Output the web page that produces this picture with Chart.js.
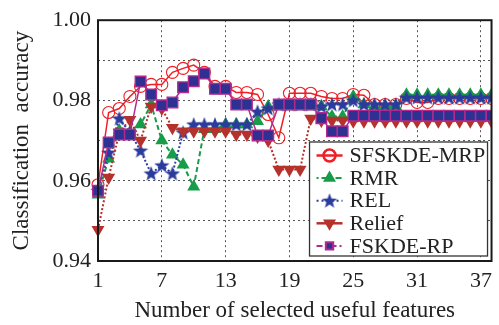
<!DOCTYPE html>
<html>
<head>
<meta charset="utf-8">
<script src="https://cdn.jsdelivr.net/npm/chart.js@4.4.1/dist/chart.umd.min.js"></script>
<style>
  html, body { margin: 0; padding: 0; background: #fff; }
  #wrap { width: 499px; height: 325px; }
</style>
</head>
<body>
<div id="wrap"><canvas id="accChart" width="499" height="325"></canvas></div>
<script>
// number of selected features (x axis)
const features = [1, 2, 3, 4, 5, 6, 7, 8, 9, 10, 11, 12, 13, 14, 15, 16, 17, 18, 19,
                  20, 21, 22, 23, 24, 25, 26, 27, 28, 29, 30, 31, 32, 33, 34, 35, 36, 37, 38];

// classification accuracy per method
const sfskdeMrp = [0.9590, 0.9770, 0.9780, 0.9810, 0.9835, 0.9840, 0.9840, 0.9870, 0.9880, 0.9888,
                   0.9870, 0.9835, 0.9835, 0.9820, 0.9820, 0.9815, 0.9765, 0.9707, 0.9818, 0.9818,
                   0.9818, 0.9810, 0.9805, 0.9805, 0.9815, 0.9813, 0.9790, 0.9790, 0.9790, 0.9805,
                   0.9795, 0.9795, 0.9805, 0.9805, 0.9805, 0.9805, 0.9805, 0.9805];
const rmr       = [0.9565, 0.9655, 0.9725, 0.9720, 0.9740, 0.9790, 0.9700, 0.9665, 0.9640, 0.9585,
                   0.9728, 0.9728, 0.9740, 0.9740, 0.9740, 0.9748, 0.9785, 0.9785, 0.9785, 0.9785,
                   0.9785, 0.9785, 0.9760, 0.9760, 0.9810, 0.9790, 0.9785, 0.9785, 0.9785, 0.9814,
                   0.9814, 0.9814, 0.9814, 0.9814, 0.9814, 0.9814, 0.9814, 0.9814];
const rel       = [0.9575, 0.9670, 0.9755, 0.9720, 0.9675, 0.9618, 0.9638, 0.9618, 0.9720, 0.9740,
                   0.9740, 0.9740, 0.9740, 0.9740, 0.9740, 0.9772, 0.9780, 0.9790, 0.9790, 0.9790,
                   0.9790, 0.9785, 0.9790, 0.9790, 0.9800, 0.9790, 0.9790, 0.9790, 0.9790, 0.9807,
                   0.9807, 0.9807, 0.9807, 0.9807, 0.9807, 0.9807, 0.9807, 0.9807];
const relief    = [0.9478, 0.9608, 0.9720, 0.9752, 0.9700, 0.9785, 0.9780, 0.9732, 0.9723, 0.9723,
                   0.9723, 0.9723, 0.9723, 0.9715, 0.9715, 0.9710, 0.9700, 0.9628, 0.9628, 0.9628,
                   0.9755, 0.9750, 0.9750, 0.9750, 0.9748, 0.9748, 0.9748, 0.9748, 0.9748, 0.9748,
                   0.9748, 0.9748, 0.9748, 0.9748, 0.9748, 0.9748, 0.9748, 0.9748];
const fskdeRp   = [0.9575, 0.9695, 0.9715, 0.9715, 0.9847, 0.9815, 0.9788, 0.9795, 0.9833, 0.9848,
                   0.9867, 0.9829, 0.9829, 0.9790, 0.9790, 0.9713, 0.9713, 0.9790, 0.9790, 0.9790,
                   0.9790, 0.9756, 0.9723, 0.9723, 0.9762, 0.9762, 0.9762, 0.9762, 0.9762, 0.9762,
                   0.9762, 0.9762, 0.9762, 0.9762, 0.9762, 0.9762, 0.9762, 0.9762];

const xTicks = [1, 7, 13, 19, 25, 31, 37];
const yTicks = [0.94, 0.96, 0.98, 1.00];
const yGrid = [0.94, 0.95, 0.96, 0.97, 0.98, 0.99, 1.00];

const ctx = document.getElementById('accChart').getContext('2d');

// pick the first serif face the canvas can really find
function hasFont(name) {
    const probe = 'mmmmwwwwiiiilll0.98';
    ctx.font = '40px monospace';
    const a = ctx.measureText(probe).width;
    ctx.font = '40px "' + name + '", monospace';
    const b = ctx.measureText(probe).width;
    return a !== b;
}
const serifFace = ['Liberation Serif', 'Times New Roman', 'DejaVu Serif', 'Noto Serif', 'Tinos']
    .find(hasFont);
const FONT = serifFace ? '"' + serifFace + '", serif' : 'serif';

// filled five point star, used as the REL marker
function makeStar(color, size) {
    const c = document.createElement('canvas');
    c.width = size; c.height = size;
    const g = c.getContext('2d');
    const cx = size / 2, cy = size / 2 + 0.5, R = size / 2, r = R * 0.42;
    g.beginPath();
    for (let i = 0; i < 10; i++) {
        const ang = -Math.PI / 2 + i * Math.PI / 5;
        const rad = i % 2 ? r : R;
        g.lineTo(cx + Math.cos(ang) * rad, cy + Math.sin(ang) * rad);
    }
    g.closePath();
    g.fillStyle = color;
    g.fill();
    return c;
}
const starImg = makeStar('#2b3b9c', 16);

function pts(values) {
    return values.map((v, i) => ({ x: features[i], y: v }));
}

const noClip = { left: false, top: false, right: 0, bottom: false };

const datasets = [
    {
        label: 'SFSKDE-MRP', data: pts(sfskdeMrp), order: 5,
        borderColor: '#ee1f26', borderWidth: 1.5,
        pointStyle: 'circle', pointRadius: 6, pointBorderWidth: 1.1,
        pointBackgroundColor: 'rgba(0,0,0,0)', pointBorderColor: '#ee1f26',
        legendDash: [], legendWidth: 2.5
    },
    {
        label: 'RMR', data: pts(rmr), order: 4,
        borderColor: '#179c4a', borderWidth: 2, borderDash: [5, 3],
        pointStyle: 'triangle', pointRadius: 7.5, pointBorderWidth: 0,
        pointBackgroundColor: '#179c4a', pointBorderColor: '#179c4a',
        legendDash: [2, 3, 6, 3], legendWidth: 2
    },
    {
        label: 'REL', data: pts(rel), order: 3,
        borderColor: '#2b3b9c', borderWidth: 2, borderDash: [2, 2],
        pointStyle: starImg, pointRadius: 8,
        pointBackgroundColor: '#2b3b9c', pointBorderColor: '#2b3b9c',
        legendDash: [2, 3, 2, 3], legendWidth: 2
    },
    {
        label: 'Relief', data: pts(relief), order: 2,
        borderColor: '#b5312c', borderWidth: 2, borderDash: [2, 2],
        pointStyle: 'triangle', pointRotation: 180, pointRadius: 7.5, pointBorderWidth: 0,
        pointBackgroundColor: '#b5312c', pointBorderColor: '#b5312c',
        legendDash: [], legendWidth: 2.5
    },
    {
        label: 'FSKDE-RP', data: pts(fskdeRp), order: 1,
        borderColor: '#b22a8f', borderWidth: 1.5,
        pointStyle: 'rect', pointRadius: 7.5, pointBorderWidth: 1.4,
        pointBackgroundColor: '#2e3192', pointBorderColor: '#b22a8f',
        legendDash: [6, 3, 2, 3], legendWidth: 2
    }
];
datasets.forEach(d => { d.fill = false; d.tension = 0; d.clip = noClip; });

// black frame round the plot area
const frame = {
    id: 'frame',
    afterDatasetsDraw(chart) {
        const { ctx, chartArea: a } = chart;
        ctx.save();
        ctx.strokeStyle = '#1a1a1a';
        ctx.lineWidth = 2;
        ctx.strokeRect(a.left, a.top, a.right - a.left, a.bottom - a.top);
        ctx.restore();
    }
};

function drawMarker(ctx, ds, x, y, scale) {
    if (ds.pointStyle instanceof HTMLCanvasElement) {
        const s = ds.pointStyle.width * scale;
        ctx.drawImage(ds.pointStyle, x - s / 2, y - s / 2, s, s);
        return;
    }
    ctx.fillStyle = ds.pointBackgroundColor;
    ctx.strokeStyle = ds.pointBorderColor;
    Chart.helpers.drawPoint(ctx, {
        pointStyle: ds.pointStyle,
        radius: ds.pointRadius * scale,
        rotation: ds.pointRotation || 0,
        borderWidth: ds.pointStyle === 'circle' ? 2.2 : ds.pointBorderWidth * 1.8
    }, x, y);
}

// legend box in the lower right corner of the plot
const legendBox = {
    id: 'legendBox',
    afterDraw(chart) {
        const { ctx, chartArea: a } = chart;
        const w = 178, h = 114;
        const x0 = a.right - 4 - w, y0 = a.bottom - 5 - h;
        ctx.save();
        ctx.fillStyle = '#fff';
        ctx.fillRect(x0, y0, w, h);
        ctx.strokeStyle = '#333';
        ctx.lineWidth = 1.3;
        ctx.strokeRect(x0, y0, w, h);
        chart.data.datasets.forEach((ds, i) => {
            const y = y0 + 13.5 + i * 22.6;
            ctx.save();
            ctx.strokeStyle = ds.borderColor;
            ctx.lineWidth = ds.legendWidth;
            ctx.setLineDash(ds.legendDash);
            ctx.beginPath();
            ctx.moveTo(x0 + 7, y);
            ctx.lineTo(x0 + 33, y);
            ctx.stroke();
            ctx.setLineDash([]);
            drawMarker(ctx, ds, x0 + 20, y, ds.pointStyle === 'rect' ? 0.7 : 1);
            ctx.restore();
            ctx.fillStyle = '#222';
            ctx.font = '22px ' + FONT;
            ctx.textBaseline = 'middle';
            ctx.textAlign = 'left';
            ctx.fillText(ds.label, x0 + 40, y + 1);
        });
        ctx.restore();
    }
};

new Chart(ctx, {
    type: 'line',
    data: { datasets: datasets },
    options: {
        responsive: false,
        animation: false,
        events: [],
        layout: { autoPadding: false, padding: { top: 15, right: 4, left: 0, bottom: 0 } },
        scales: {
            x: {
                type: 'linear',
                min: 1,
                max: 38,
                afterBuildTicks: s => { s.ticks = xTicks.map(v => ({ value: v })); },
                afterFit: s => { s.height = 64; },
                border: { display: false, dash: [2, 3] },
                grid: { color: '#555', lineWidth: 1, drawTicks: false },
                ticks: {
                    color: '#222', padding: 7, maxRotation: 0, autoSkip: false,
                    font: { family: FONT, size: 22 },
                    callback: v => String(v)
                },
                title: {
                    display: true, text: 'Number of selected useful features', color: '#222',
                    font: { family: FONT, size: 23 }, padding: { top: 0, bottom: 0 }
                }
            },
            y: {
                min: 0.94,
                max: 1.00,
                afterBuildTicks: s => { s.ticks = yGrid.map(v => ({ value: v })); },
                afterFit: s => { s.width = 98; },
                border: { display: false, dash: [2, 3] },
                grid: { color: '#555', lineWidth: 1, drawTicks: false },
                ticks: {
                    color: '#222', padding: 7, autoSkip: false,
                    font: { family: FONT, size: 22 },
                    callback: v => yTicks.some(t => Math.abs(t - v) < 1e-6) ? v.toFixed(2) : ''
                },
                title: {
                    display: true, text: 'Classification  accuracy', color: '#222',
                    font: { family: FONT, size: 23 }, padding: { top: 8, bottom: 0 }
                }
            }
        },
        plugins: {
            legend: { display: false },
            tooltip: { enabled: false }
        }
    },
    plugins: [frame, legendBox]
});
</script>
</body>
</html>
